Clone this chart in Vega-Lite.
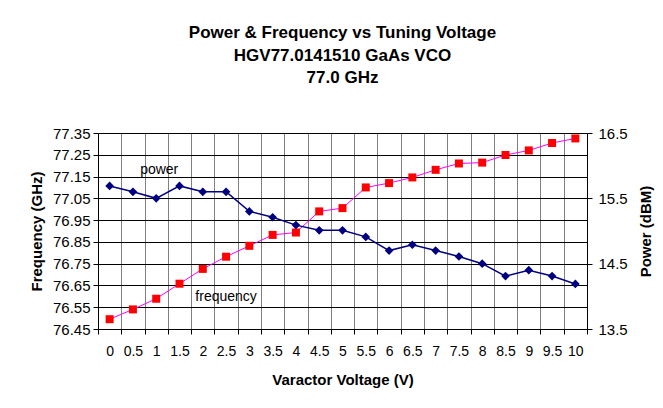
{
  "$schema": "https://vega.github.io/schema/vega-lite/v6.json",
  "width": 489,
  "height": 196,
  "autosize": {"type": "none"},
  "padding": {"left": 98, "top": 133, "right": 76, "bottom": 79},
  "background": "white",
  "config": {
    "font": "Liberation Sans",
    "view": {"stroke": "#808080", "strokeWidth": 1}
  },
  "title": {
    "text": ["Power & Frequency vs Tuning Voltage", "HGV77.0141510 GaAs VCO", "77.0 GHz"],
    "fontSize": 17,
    "fontWeight": "bold",
    "color": "black",
    "lineHeight": 22.5,
    "anchor": "middle",
    "offset": 39
  },
  "data": {
    "values": [
      {"v": "0", "freq": 76.495, "power": 15.69},
      {"v": "0.5", "freq": 76.540, "power": 15.60},
      {"v": "1", "freq": 76.589, "power": 15.50},
      {"v": "1.5", "freq": 76.658, "power": 15.69},
      {"v": "2", "freq": 76.726, "power": 15.60},
      {"v": "2.5", "freq": 76.782, "power": 15.60},
      {"v": "3", "freq": 76.832, "power": 15.30},
      {"v": "3.5", "freq": 76.882, "power": 15.21},
      {"v": "4", "freq": 76.893, "power": 15.09},
      {"v": "4.5", "freq": 76.990, "power": 15.01},
      {"v": "5", "freq": 77.005, "power": 15.01},
      {"v": "5.5", "freq": 77.100, "power": 14.91},
      {"v": "6", "freq": 77.120, "power": 14.70},
      {"v": "6.5", "freq": 77.146, "power": 14.79},
      {"v": "7", "freq": 77.181, "power": 14.70},
      {"v": "7.5", "freq": 77.210, "power": 14.61},
      {"v": "8", "freq": 77.214, "power": 14.50},
      {"v": "8.5", "freq": 77.249, "power": 14.31},
      {"v": "9", "freq": 77.270, "power": 14.40},
      {"v": "9.5", "freq": 77.304, "power": 14.31},
      {"v": "10", "freq": 77.325, "power": 14.19}
    ]
  },
  "encoding": {
    "x": {
      "field": "v",
      "type": "ordinal",
      "bandPosition": 0.5,
      "scale": {
        "type": "band",
        "paddingInner": 0,
        "paddingOuter": 0,
        "domain": ["0","0.5","1","1.5","2","2.5","3","3.5","4","4.5","5","5.5","6","6.5","7","7.5","8","8.5","9","9.5","10"]
      },
      "axis": {
        "title": "Varactor Voltage (V)",
        "titleFontSize": 15,
        "titleFontWeight": "bold",
        "titleColor": "black",
        "titlePadding": 14,
        "labelAngle": 0,
        "labelFontSize": 14,
        "labelColor": "black",
        "labelOverlap": false,
        "labelPadding": 10,
        "tickBand": "extent",
        "tickSize": 5,
        "tickColor": "black",
        "domainColor": "black",
        "grid": true,
        "gridColor": "#808080",
        "gridOpacity": 1
      }
    }
  },
  "layer": [
    {
      "encoding": {
        "y": {
          "field": "freq",
          "type": "quantitative",
          "scale": {"domain": [76.45, 77.35], "nice": false, "zero": false},
          "axis": {
            "title": "Frequency (GHz)",
            "titleFontSize": 15,
            "titleFontWeight": "bold",
            "titleColor": "black",
            "titlePadding": 8,
            "values": [76.45, 76.55, 76.65, 76.75, 76.85, 76.95, 77.05, 77.15, 77.25, 77.35],
            "format": ".2f",
            "labelFontSize": 15,
            "labelColor": "black",
            "labelPadding": 3,
            "tickSize": 5,
            "tickColor": "black",
            "domainColor": "black",
            "grid": true,
            "gridColor": "black",
            "gridOpacity": 1
          }
        }
      },
      "layer": [
        {"mark": {"type": "line", "color": "#FF00FF", "strokeWidth": 1}},
        {"mark": {"type": "point", "shape": "square", "filled": true, "size": 64, "color": "#FF0000", "opacity": 1}},
        {
          "transform": [{"filter": "datum.v == '2.5'"}],
          "mark": {"type": "text", "text": "frequency", "fontSize": 14, "color": "black", "align": "center", "baseline": "middle"},
          "encoding": {
            "y": {"datum": 76.598}
          }
        }
      ]
    },
    {
      "encoding": {
        "y": {
          "field": "power",
          "type": "quantitative",
          "scale": {"domain": [13.5, 16.5], "nice": false, "zero": false},
          "axis": {
            "orient": "right",
            "title": "Power (dBM)",
            "titleFontSize": 15,
            "titleFontWeight": "bold",
            "titleColor": "black",
            "titleAngle": 270,
            "titleBaseline": "top",
            "titlePadding": 11,
            "values": [13.5, 14.5, 15.5, 16.5],
            "format": ".1f",
            "labelFontSize": 15,
            "labelColor": "black",
            "labelPadding": 6,
            "tickSize": 5,
            "tickColor": "black",
            "domainColor": "black",
            "grid": false
          }
        }
      },
      "layer": [
        {"mark": {"type": "line", "color": "#000080", "strokeWidth": 1.5}},
        {"mark": {"type": "point", "shape": "diamond", "filled": true, "size": 75, "color": "#000080", "opacity": 1}},
        {
          "transform": [{"filter": "datum.v == '1'"}],
          "mark": {"type": "text", "text": "power", "fontSize": 14, "color": "black", "align": "center", "baseline": "middle", "dx": 3},
          "encoding": {
            "y": {"datum": 15.94}
          }
        }
      ]
    }
  ],
  "resolve": {"scale": {"y": "independent"}}
}
